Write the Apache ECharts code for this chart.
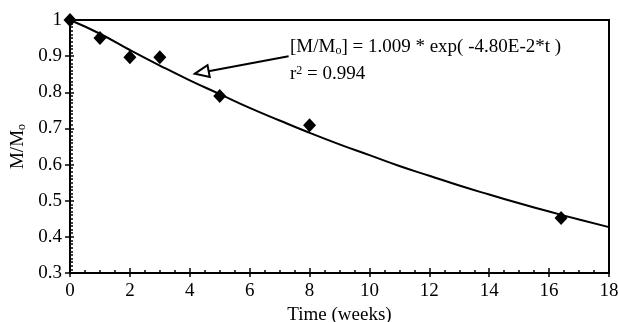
<!DOCTYPE html>
<html lang="en">
<head>
    <meta charset="UTF-8">
    <title>M/Mo decay</title>
    <script src="https://cdn.jsdelivr.net/npm/echarts@6/dist/echarts.min.js"></script>
    <style>
        html, body { margin: 0; padding: 0; background: #fff; }
        #main { width: 618px; height: 322px; }
    </style>
</head>
<body>
<div id="main"></div>
<script>
    // measured points (time in weeks, M/Mo)
    var weeks = [0, 1, 2, 3, 5, 8, 16.4];
    var ratio = [1.0, 0.95, 0.897, 0.897, 0.79, 0.709, 0.452];

    // fit curve
    var fitWeeks = [0, 1, 2, 3, 4, 5, 6, 7, 8, 9, 10, 11, 12, 13, 14, 15, 16, 17, 18];
    var fitRatio = [1.0, 0.962, 0.917, 0.874, 0.833, 0.795, 0.757, 0.722, 0.688, 0.656,
        0.626, 0.596, 0.569, 0.542, 0.517, 0.493, 0.47, 0.448, 0.427];

    var xTicks = [0, 18, 2];
    var yTicks = [0.3, 1, 0.1];

    var serif = 'Liberation Serif';
    var fs = 19;

    var pts = weeks.map(function (w, i) { return [w, ratio[i]]; });
    var fit = fitWeeks.map(function (w, i) { return [w, fitRatio[i]]; });

    var myChart = echarts.init(document.getElementById('main'));

    var axisBase = {
        type: 'value',
        axisLine: { show: true, onZero: false, lineStyle: { color: '#000', width: 2 } },
        splitLine: { show: false }
    };

    var option = {
        animation: false,
        grid: {
            left: 70, right: 9, top: 20, bottom: 49,
            outerBoundsMode: 'none',
            show: true, borderColor: '#000', borderWidth: 2
        },
        xAxis: [
            Object.assign({}, axisBase, {
                min: xTicks[0], max: xTicks[1], interval: xTicks[2],
                position: 'bottom',
                name: 'Time (weeks)', nameLocation: 'middle', nameGap: 28,
                nameTextStyle: { fontFamily: serif, fontSize: fs, color: '#000' },
                axisTick: { inside: true, length: 5, lineStyle: { color: '#000', width: 1.5 } },
                minorTick: { show: true, splitNumber: 4, length: 3, lineStyle: { color: '#000', width: 1.5 } },
                axisLabel: { fontFamily: serif, fontSize: fs, color: '#000', margin: 9 }
            }),
            Object.assign({}, axisBase, {
                min: xTicks[0], max: xTicks[1], interval: xTicks[2],
                position: 'bottom',
                axisLine: { show: false, onZero: false },
                axisTick: { inside: false, length: 4, lineStyle: { color: '#000', width: 1.5 } },
                axisLabel: { show: false }
            })
        ],
        yAxis: [
            Object.assign({}, axisBase, {
                min: yTicks[0], max: yTicks[1], interval: yTicks[2],
                position: 'left',
                name: '{a|M/M}{b|o}', nameLocation: 'middle', nameGap: 41, nameRotate: 90,
                nameTextStyle: {
                    rich: {
                        a: { fontFamily: serif, fontSize: fs, color: '#000' },
                        b: { fontFamily: serif, fontSize: 12, color: '#000', padding: [7, 0, 0, 0] }
                    }
                },
                axisTick: { inside: true, length: 4, lineStyle: { color: '#000', width: 1.5 } },
                minorTick: { show: true, splitNumber: 10, length: 3, lineStyle: { color: '#000', width: 1.5 } },
                axisLabel: { fontFamily: serif, fontSize: fs, color: '#000', margin: 8 }
            }),
            Object.assign({}, axisBase, {
                min: yTicks[0], max: yTicks[1], interval: yTicks[2],
                position: 'left',
                axisLine: { show: false, onZero: false },
                axisTick: { inside: false, length: 5, lineStyle: { color: '#000', width: 1.5 } },
                axisLabel: { show: false }
            })
        ],
        series: [
            {
                type: 'line',
                data: fit,
                smooth: true,
                showSymbol: false,
                lineStyle: { color: '#000', width: 2 },
                z: 2,
                markLine: {
                    silent: true,
                    symbol: ['none', 'emptyTriangle'],
                    symbolSize: [12, 14],
                    lineStyle: { color: '#000', width: 2, type: 'solid' },
                    label: { show: false },
                    data: [[{ coord: [7.3, 0.9] }, { coord: [4.4, 0.855] }]]
                }
            },
            {
                type: 'scatter',
                data: pts,
                symbol: 'diamond',
                symbolSize: [13, 14],
                itemStyle: { color: '#000', opacity: 1 },
                z: 3
            }
        ],
        graphic: [
            {
                type: 'text', left: 290, top: 38,
                style: {
                    text: '{a|[M/M}{b|o}{a|] = 1.009 * exp( -4.80E-2*t )}',
                    rich: {
                        a: { fontFamily: serif, fontSize: fs, fill: '#000' },
                        b: { fontFamily: serif, fontSize: 12, fill: '#000', padding: [7, 0, 0, 0] }
                    }
                }
            },
            {
                type: 'text', left: 290, top: 65,
                style: {
                    text: '{a|r}{b|2}{a| = 0.994}',
                    rich: {
                        a: { fontFamily: serif, fontSize: fs, fill: '#000' },
                        b: { fontFamily: serif, fontSize: 12, fill: '#000', padding: [0, 0, 7, 0] }
                    }
                }
            }
        ]
    };

    myChart.setOption(option);
    window.addEventListener('resize', function () {
        myChart.resize();
    });
</script>
</body>
</html>
